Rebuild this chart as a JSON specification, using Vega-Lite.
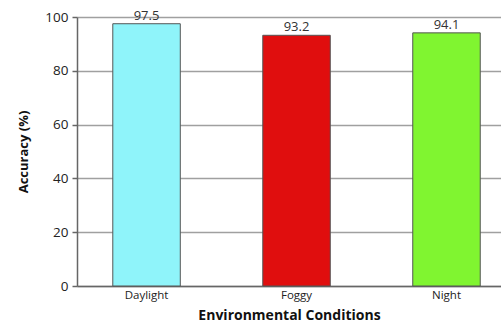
{
  "$schema": "https://vega.github.io/schema/vega-lite/v6.json",
  "autosize": {"type": "none"},
  "width": 424,
  "height": 269,
  "padding": {"left": 77, "top": 17, "right": 0, "bottom": 40},
  "background": "white",
  "config": {
    "view": {"stroke": null},
    "font": "Open Sans"
  },
  "data": {
    "values": [
      {"condition": "Daylight", "accuracy": 97.5},
      {"condition": "Foggy", "accuracy": 93.2},
      {"condition": "Night", "accuracy": 94.1}
    ]
  },
  "encoding": {
    "x": {
      "field": "condition",
      "type": "nominal",
      "sort": null,
      "scale": {"paddingInner": 0.55, "paddingOuter": 0.1885, "align": 0.633},
      "axis": {
        "title": "Environmental Conditions",
        "titleFont": "Open Sans",
        "titleFontSize": 14,
        "titleFontWeight": "bold",
        "titleColor": "#111",
        "titlePadding": 8,
        "labelAngle": 0,
        "labelFontSize": 11.5,
        "labelColor": "#222",
        "labelPadding": 3,
        "ticks": false,
        "domainColor": "#666",
        "domainWidth": 1.5,
        "grid": false
      }
    },
    "y": {
      "field": "accuracy",
      "type": "quantitative",
      "scale": {"domain": [0, 100], "nice": false},
      "axis": {
        "title": "Accuracy (%)",
        "titleFontSize": 13,
        "titleFontWeight": "bold",
        "titleColor": "#111",
        "titlePadding": 14,
        "values": [0, 20, 40, 60, 80, 100],
        "labelFontSize": 13.5,
        "labelColor": "#222",
        "labelPadding": 4,
        "tickSize": 5,
        "tickColor": "#666",
        "tickWidth": 1.5,
        "domainColor": "#666",
        "domainWidth": 1.5,
        "grid": true,
        "gridColor": "#a0a0a0",
        "gridWidth": 1.5
      }
    }
  },
  "layer": [
    {
      "mark": {"type": "bar", "stroke": "#555", "strokeWidth": 1},
      "encoding": {
        "color": {
          "field": "condition",
          "type": "nominal",
          "scale": {"domain": ["Daylight", "Foggy", "Night"], "range": ["#8ff4fa", "#e00e0e", "#80f530"]},
          "legend": null
        }
      }
    },
    {
      "mark": {"type": "text", "baseline": "bottom", "dy": -1, "fontSize": 13, "color": "#333"},
      "encoding": {
        "text": {"field": "accuracy", "type": "quantitative", "format": ".1f"}
      }
    }
  ]
}
